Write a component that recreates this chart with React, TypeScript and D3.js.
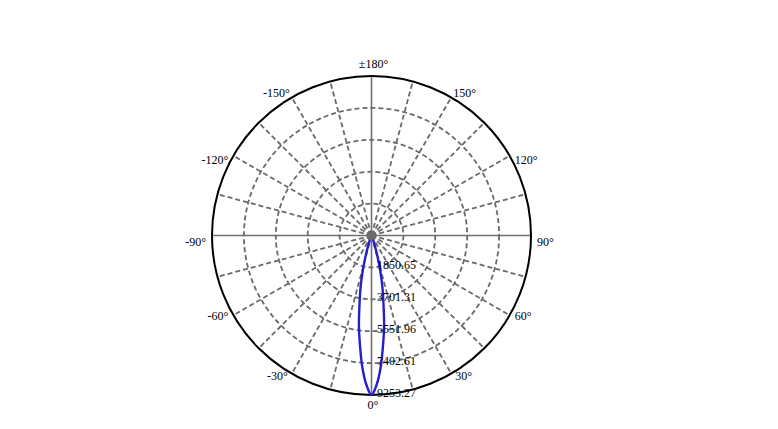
import { useEffect, useRef } from 'react';
import * as d3 from 'd3';

// luminous intensity (cd) vs. angle from nadir, one half of the symmetric beam
const beamAngles = [0, 2, 4, 6, 8, 10, 12, 14, 16, 18, 20, 22, 25, 30, 40, 60, 90, 120, 150, 180];
const beamValues = [9253.27, 8650, 7650, 6400, 5250, 3990, 3030, 2080, 1250, 650, 320, 160, 80, 40, 15, 5, 0, 0, 0, 0];

const ringValues = [1850.65, 3701.31, 5551.96, 7402.61, 9253.27];
const angleTicks = [0, 30, 60, 90, 120, 150, 180, -150, -120, -90, -60, -30];
const spokeAngles = d3.range(0, 360, 15);

const W = 778;
const H = 429;
const cx = 371.5;
const cy = 235.5;
const R = 159.5;

const FONT = '"Liberation Serif", "Times New Roman", serif';

const tickLabel = (a: number) => (a === 180 ? '±180°' : `${a}°`);

// label offsets by |angle| (dx away from circle, baseline shift)
const labelOffset: Record<number, [number, number]> = {
  30: [4, 6],
  60: [5, 4.5],
  90: [6, 10],
  120: [5, 8],
  150: [2, -0.5],
};

const App = () => {
  const svgRef = useRef<SVGSVGElement>(null);

  useEffect(() => {
    if (!svgRef.current) return;
    const svg = d3.select(svgRef.current);
    svg.selectAll('*').remove();

    const r = d3.scaleLinear().domain([0, ringValues[ringValues.length - 1]]).range([0, R]);
    const toRad = (deg: number) => (deg * Math.PI) / 180;
    const px = (deg: number, rad: number) => cx + rad * Math.sin(toRad(deg));
    const py = (deg: number, rad: number) => cy + rad * Math.cos(toRad(deg));

    const g = svg.append('g');

    // spokes
    spokeAngles.forEach((a) => {
      const solid = a % 90 === 0;
      g.append('line')
        .attr('x1', cx)
        .attr('y1', cy)
        .attr('x2', px(a, R))
        .attr('y2', py(a, R))
        .attr('stroke', solid ? '#707070' : '#6a6a6a')
        .attr('stroke-width', solid ? 1.6 : 1.8)
        .attr('stroke-dasharray', solid ? null : '5,3');
    });

    // rings
    ringValues.slice(0, -1).forEach((v) => {
      g.append('circle')
        .attr('cx', cx)
        .attr('cy', cy)
        .attr('r', r(v))
        .attr('fill', 'none')
        .attr('stroke', '#6a6a6a')
        .attr('stroke-width', 1.8)
        .attr('stroke-dasharray', '5,3');
    });

    g.append('circle')
      .attr('cx', cx)
      .attr('cy', cy)
      .attr('r', R)
      .attr('fill', 'none')
      .attr('stroke', '#000')
      .attr('stroke-width', 2);

    // beam curve (mirrored half profile)
    const pts: [number, number][] = [];
    for (let i = beamAngles.length - 1; i > 0; i--) pts.push([-beamAngles[i], beamValues[i]]);
    for (let i = 0; i < beamAngles.length; i++) pts.push([beamAngles[i], beamValues[i]]);

    const line = d3
      .lineRadial<[number, number]>()
      .angle((d) => Math.PI - toRad(d[0]))
      .radius((d) => r(d[1]))
      .curve(d3.curveCatmullRomClosed);

    g.append('path')
      .datum(pts)
      .attr('transform', `translate(${cx},${cy})`)
      .attr('d', line)
      .attr('fill', 'none')
      .attr('stroke', '#2a1ecb')
      .attr('stroke-width', 2.4)
      .attr('stroke-linejoin', 'round');

    // center dot
    g.append('circle').attr('cx', cx).attr('cy', cy).attr('r', 5).attr('fill', '#6a6a6a');

    // ring labels
    ringValues.forEach((v) => {
      g.append('text')
        .attr('x', cx + 5.5)
        .attr('y', cy + r(v) + 2)
        .attr('font-family', FONT)
        .attr('font-size', 12)
        .attr('fill', '#000')
        .text(v.toFixed(2));
    });

    // angle labels
    angleTicks.forEach((a) => {
      const t = g.append('text').attr('font-family', FONT).attr('font-size', 12).attr('fill', '#000');
      if (a === 0) {
        t.attr('x', cx + 1.5).attr('y', cy + R + 13.5).attr('text-anchor', 'middle');
      } else if (a === 180) {
        t.attr('x', cx + 2).attr('y', cy - R - 8.5).attr('text-anchor', 'middle');
      } else {
        const [dx, dy] = labelOffset[Math.abs(a)];
        const s = a > 0 ? 1 : -1;
        t.attr('x', px(a, R) + s * dx)
          .attr('y', py(a, R) + dy)
          .attr('text-anchor', a > 0 ? 'start' : 'end');
      }
      t.text(tickLabel(a));
    });
  }, []);

  return (
    <div style={{ position: 'absolute', left: 0, top: 0, width: W, height: H, background: '#fff' }}>
      <svg ref={svgRef} width={W} height={H} />
    </div>
  );
};

export default App;
